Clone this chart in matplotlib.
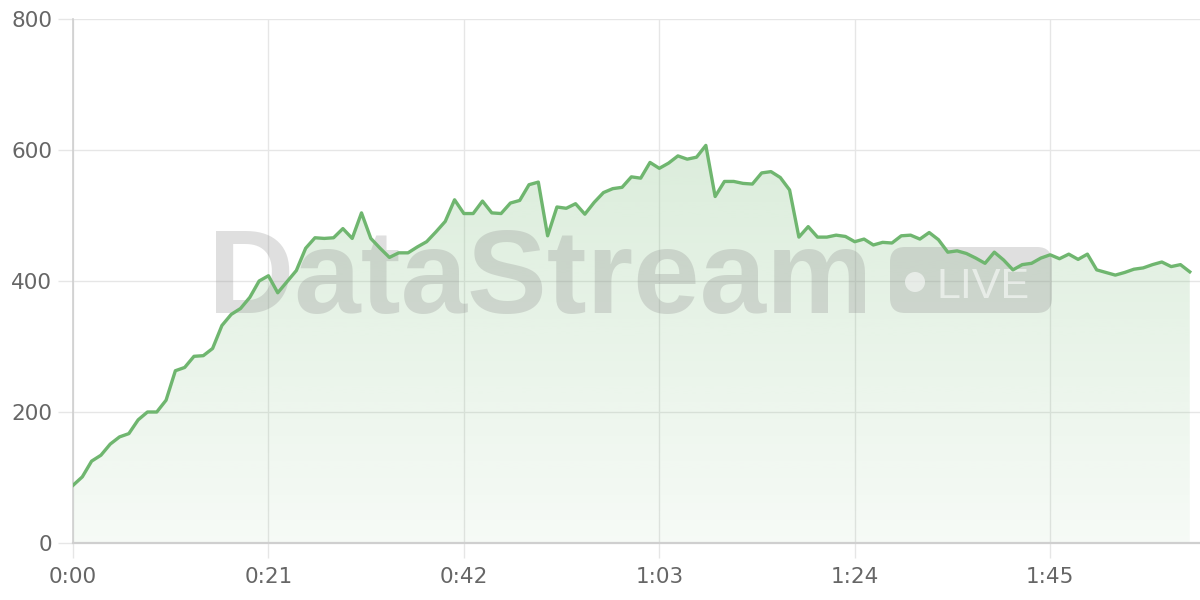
import numpy as np
import matplotlib
matplotlib.use("Agg")
import matplotlib.pyplot as plt
import matplotlib.transforms as mtransforms
from matplotlib.patches import FancyBboxPatch, Circle

# values, one per second from 0:00 to 2:00
seconds = list(range(121))
values = [
    88, 101, 125, 134, 151, 162, 167, 188, 200, 200,
    218, 263, 268, 285, 286, 297, 332, 349, 358, 375,
    400, 408, 382, 399, 416, 450, 466, 465, 466, 480,
    465, 504, 465, 450, 436, 443, 443, 452, 460, 475,
    491, 524, 503, 503, 522, 504, 503, 519, 523, 547,
    551, 469, 513, 511, 518, 502, 520, 535, 541, 543,
    559, 557, 581, 572, 580, 591, 586, 589, 607, 529,
    552, 552, 549, 548, 565, 567, 558, 539, 467, 483,
    467, 467, 470, 468, 460, 464, 455, 459, 458, 469,
    470, 464, 474, 463, 444, 446, 442, 435, 427, 444,
    432, 417, 425, 427, 435, 440, 434, 441, 433, 441,
    417, 413, 409, 413, 418, 420, 425, 429, 422, 425,
    414,
]
tick_secs = [0, 21, 42, 63, 84, 105]
tick_labels = ["0:00", "0:21", "0:42", "1:03", "1:24", "1:45"]
y_ticks = [0, 200, 400, 600, 800]

line_color = "#6fb66f"
grid_color = "#e6e6e6"
axis_color = "#cfcfcf"
label_color = "#666666"

fig = plt.figure(figsize=(12, 6), dpi=100)
ax = fig.add_axes([73 / 1200, 57 / 600, 1127 / 1200, 524 / 600])
ax.set_xlim(0, 121.1)
ax.set_ylim(0, 800)

# pixel coordinates, y pointing down, for the watermark
px = mtransforms.Affine2D().scale(1 / 1200, -1 / 600).translate(0, 1) + fig.transFigure

# gradient fill under the line
x = np.array(seconds)
y = np.array(values)
grad = np.zeros((256, 1, 4))
grad[:, 0, 0] = 0x6d / 255
grad[:, 0, 1] = 0xb5 / 255
grad[:, 0, 2] = 0x6d / 255
grad[:, 0, 3] = np.linspace(0.06, 0.25, 256)
img = ax.imshow(grad, aspect="auto", origin="lower",
                extent=[0, 120, 0, 620], zorder=1, interpolation="bilinear")
poly = ax.fill_between(x, y, 0, facecolor="none", edgecolor="none")
img.set_clip_path(poly.get_paths()[0], transform=ax.transData)

# watermark
wm_color = "#8a8a8a"
wm_alpha = 0.27
ax.text(208, 313, "DataStream", fontsize=86, fontweight="bold",
        family="Liberation Sans", ha="left", va="baseline", color=wm_color,
        alpha=wm_alpha, zorder=2, transform=px, clip_on=False)
badge = FancyBboxPatch((890, 247), 162, 66,
                       boxstyle="round,pad=0,rounding_size=15",
                       facecolor=wm_color, edgecolor="none", alpha=wm_alpha,
                       transform=px, zorder=2, clip_on=False)
ax.add_patch(badge)
ax.add_patch(Circle((915, 282), 10, facecolor="white", alpha=0.55,
                    edgecolor="none", transform=px, zorder=3, clip_on=False))
ax.text(936, 298, "LIVE", fontsize=31, family="Liberation Sans",
        color="white", alpha=0.55, ha="left", va="baseline", zorder=3,
        transform=px, clip_on=False)

ax.plot(x, y, color=line_color, linewidth=2.4, zorder=5)

# grid and axes
ax.set_xticks(tick_secs)
ax.set_xticklabels(tick_labels)
ax.set_yticks(y_ticks)
ax.grid(True, color=grid_color, linewidth=1)
ax.set_axisbelow(True)
for side in ["top", "right"]:
    ax.spines[side].set_visible(False)
ax.spines["left"].set_color(axis_color)
ax.spines["bottom"].set_color(axis_color)
ax.spines["left"].set_linewidth(1.2)
ax.spines["bottom"].set_linewidth(1.6)
ax.tick_params(axis="both", length=11, color=grid_color, width=1,
               labelsize=15.5, labelcolor=label_color)
ax.tick_params(axis="y", pad=4)
ax.tick_params(axis="x", pad=6)
for t in ax.get_xticklabels() + ax.get_yticklabels():
    t.set_family("DejaVu Sans")

fig.savefig("out.png", dpi=100)
